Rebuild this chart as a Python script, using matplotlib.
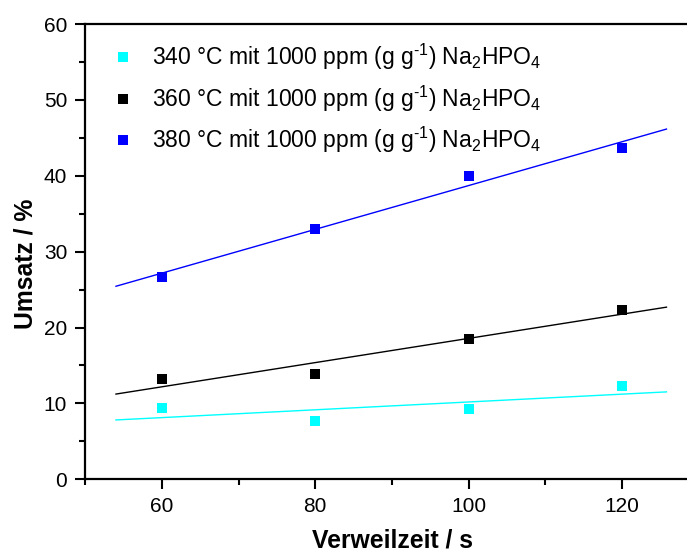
import numpy as np
import matplotlib
matplotlib.use("Agg")
import matplotlib.pyplot as plt
from matplotlib.transforms import IdentityTransform

plt.rcParams['font.family'] = ['Liberation Sans', 'DejaVu Sans']
plt.rcParams['mathtext.fontset'] = 'custom'
plt.rcParams['mathtext.rm'] = 'Liberation Sans'
plt.rcParams['mathtext.it'] = 'Liberation Sans:italic'
plt.rcParams['mathtext.bf'] = 'Liberation Sans:bold'

time_s = [60, 80, 100, 120]
conv_340 = [9.4, 7.7, 9.3, 12.3]
conv_360 = [13.2, 13.9, 18.5, 22.3]
conv_380 = [26.7, 33.0, 40.0, 43.6]
labels = [r'340 °C mit 1000 ppm (g g$^{\text{-1}}$) Na$_{\mathregular{2}}$HPO$_{\mathregular{4}}$',
          r'360 °C mit 1000 ppm (g g$^{\text{-1}}$) Na$_{\mathregular{2}}$HPO$_{\mathregular{4}}$',
          r'380 °C mit 1000 ppm (g g$^{\text{-1}}$) Na$_{\mathregular{2}}$HPO$_{\mathregular{4}}$']
colors = ['#00FFFF', '#000000', '#0000FF']
fit_range = [54, 125.8]

W, H = 687, 552
fig = plt.figure(figsize=(W/100, H/100), dpi=100)
ax = fig.add_axes([85.3/W, 1-479.3/H, 1-85.3/W, (479.3-24)/H])

handles = []
for ys, c, lab in zip([conv_340, conv_360, conv_380], colors, labels):
    h, = ax.plot(time_s, ys, linestyle='none', marker='s', markersize=7.2,
                 color=c, markeredgewidth=0, label=lab)
    handles.append(h)
    k, d = np.polyfit(time_s, ys, 1)
    xf = np.array(fit_range)
    ax.plot(xf, k*xf + d, color=c, linewidth=1.0)

ax.set_xlim(50, 128.48)
ax.set_ylim(0, 60)
ax.set_xticks([60, 80, 100, 120])
ax.set_xticks([50, 70, 90, 110], minor=True)
ax.set_yticks(range(0, 61, 10))
ax.set_yticks(range(5, 60, 10), minor=True)
ax.spines['right'].set_visible(False)
for s in ['left', 'bottom', 'top']:
    ax.spines[s].set_linewidth(1.6)
ax.tick_params(which='major', direction='out', length=7, width=1.5, labelsize=15, pad=6)
ax.tick_params(which='minor', direction='out', length=4, width=1.5)
ax.tick_params(top=False, right=False)

ax.set_xlabel('Verweilzeit / s', fontsize=17.8, fontweight='bold')
ax.set_ylabel('Umsatz / %', fontsize=17.8, fontweight='bold')
ax.xaxis.set_label_coords(0.511, -0.1355)
ax.yaxis.set_label_coords(-0.100, 0.473)
ax.xaxis.label.set_va('center')
ax.yaxis.label.set_va('center')

leg = ax.legend(handles=handles, loc='upper left',
                bbox_to_anchor=(113.8, H - 42), bbox_transform=IdentityTransform(),
                frameon=False, fontsize=16.5, handlelength=0.8, handletextpad=0.86,
                labelspacing=0.49, borderaxespad=0, borderpad=0)
for lh in leg.legend_handles:
    lh.set_markersize(7)

fig.savefig('out.png', dpi=100)
